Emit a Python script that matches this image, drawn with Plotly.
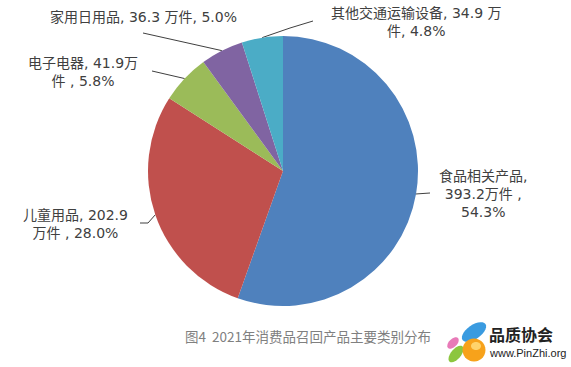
import math
import plotly.graph_objects as go

# ---- data ----
categories = ["食品相关产品", "儿童用品", "电子电器", "家用日用品", "其他交通运输设备"]
values = [393.2, 202.9, 41.9, 36.3, 34.9]          # 万件
percents = ["54.3%", "28.0%", "5.8%", "5.0%", "4.8%"]
label_texts = [
    "食品相关产品,<br>393.2万件 ,<br>54.3%",
    "儿童用品, 202.9<br>万件 , 28.0%",
    "电子电器, 41.9万<br>件 , 5.8%",
    "家用日用品, 36.3 万件, 5.0%",
    "其他交通运输设备, 34.9 万<br>件, 4.8%",
]
colors = ["#4F81BD", "#C0504D", "#9BBB59", "#8064A2", "#4BACC6"]
caption = "图4&nbsp;&nbsp;2021年消费品召回产品主要类别分布"

W, H = 571, 367
CX, CY, R = 283, 171, 135

LABEL_FONT = "DejaVu Sans, Noto Sans CJK SC, sans-serif"

# label anchor (pixel) positions and leader-line outer points
label_pos = [(483, 194), (75, 224), (83, 72), (143, 17), (416, 22)]
leader_outer = [
    [(430, 193)],
    [(148, 223), (140, 223)],
    [(152, 71)],
    [(143, 33)],
    [(290, 28), (313, 21)],
]

fig = go.Figure()
fig.add_trace(go.Pie(
    labels=categories, values=values, sort=False, direction="clockwise",
    rotation=0, marker=dict(colors=colors, line=dict(width=0)),
    textinfo="none", hoverinfo="label+value", showlegend=False,
    domain=dict(x=[(CX - R) / W, (CX + R) / W], y=[1 - (CY + R) / H, 1 - (CY - R) / H]),
))

# leader lines from slice mid-angle edge
total = sum(values)
cum = 0
for i, v in enumerate(values):
    mid = (cum + v / 2) / total * 2 * math.pi
    cum += v
    ex, ey = CX + R * math.sin(mid), CY - R * math.cos(mid)
    pts = [(ex, ey)] + leader_outer[i]
    fig.add_trace(go.Scatter(
        x=[p[0] for p in pts], y=[p[1] for p in pts], mode="lines",
        line=dict(color="#404040", width=1), hoverinfo="skip", showlegend=False,
        xaxis="x", yaxis="y",
    ))

annotations = []
for (lx, ly), t in zip(label_pos, label_texts):
    annotations.append(dict(
        x=lx, y=ly, xref="x", yref="y", text=t, showarrow=False,
        font=dict(family=LABEL_FONT, size=14, color="#404040"),
        align="center", xanchor="center", yanchor="middle",
    ))
annotations.append(dict(
    x=183, y=336, xref="x", yref="y", text=caption, showarrow=False,
    font=dict(family="Noto Sans CJK SC", size=13.5, color="#808080"),
    xanchor="left", yanchor="middle",
))
annotations.append(dict(
    x=487, y=334, xref="x", yref="y", text="<b>品质协会</b>", showarrow=False,
    font=dict(family="Noto Sans CJK SC", size=16, color="#222222"),
    xanchor="left", yanchor="middle",
))
annotations.append(dict(
    x=487, y=353, xref="x", yref="y", text="www.PinZhi.org", showarrow=False,
    font=dict(family="Liberation Sans", size=11, color="#222222"),
    xanchor="left", yanchor="middle",
))


def ellipse_path(cx, cy, a, b, ang_deg, n=28):
    t = math.radians(ang_deg)
    pts = []
    for k in range(n):
        p = 2 * math.pi * k / n
        x, y = a * math.cos(p), b * math.sin(p)
        pts.append((cx + x * math.cos(t) - y * math.sin(t), cy + x * math.sin(t) + y * math.cos(t)))
    return "M " + " L ".join(f"{x:.2f},{y:.2f}" for x, y in pts) + " Z"


# logo petals
logo = [
    (453, 343, 7, 4, -45, "#E87AB8"),
    (474, 332, 14, 7, -35, "#3A9BE0"),
    (456, 354, 10, 5, -50, "#8CC63F"),
    (474, 350, 11.5, 11.5, 0, "#F7A21B"),
    (476, 346, 5, 4, 0, "#FFD36B"),
]
shapes = [
    dict(type="path", xref="x", yref="y", path=ellipse_path(*p[:5]), fillcolor=p[5], line_width=0)
    for p in logo
]

fig.update_layout(
    width=W, height=H, margin=dict(l=0, r=0, t=0, b=0),
    paper_bgcolor="white", plot_bgcolor="rgba(0,0,0,0)",
    xaxis=dict(range=[0, W], visible=False, domain=[0, 1], fixedrange=True),
    yaxis=dict(range=[H, 0], visible=False, domain=[0, 1], fixedrange=True),
    annotations=annotations, shapes=shapes,
)
fig.write_html("out.html", config={"displayModeBar": False},
               post_script="document.body.style.margin='0';")
